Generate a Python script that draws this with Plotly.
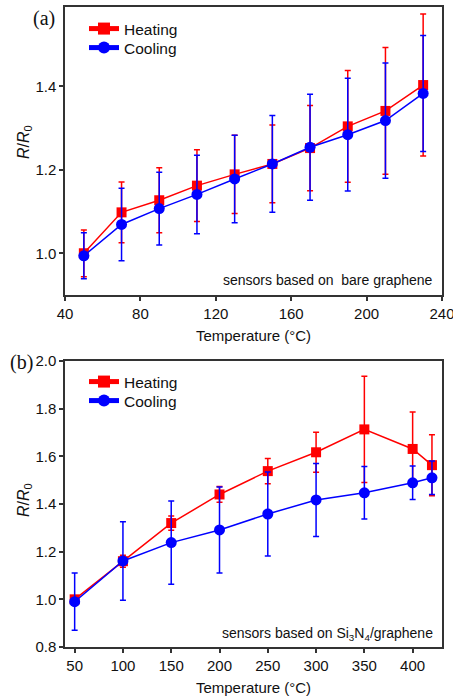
import plotly.graph_objects as go

# ---- Panel (a): bare graphene ----
temp_a = [50, 70, 90, 110, 130, 150, 170, 190, 210, 230]
heat_a = [1.000, 1.098, 1.127, 1.162, 1.189, 1.214, 1.252, 1.304, 1.341, 1.403]
heat_a_err = [0.056, 0.073, 0.078, 0.086, 0.094, 0.093, 0.102, 0.134, 0.152, 0.170]
cool_a = [0.994, 1.069, 1.107, 1.141, 1.178, 1.214, 1.254, 1.284, 1.318, 1.383]
cool_a_err = [0.055, 0.087, 0.087, 0.094, 0.105, 0.116, 0.127, 0.135, 0.138, 0.139]

# ---- Panel (b): Si3N4/graphene ----
temp_b = [50, 100, 150, 200, 250, 300, 350, 400, 420]
heat_b = [1.000, 1.160, 1.320, 1.440, 1.538, 1.617, 1.713, 1.631, 1.563]
heat_b_err = [0.010, 0.025, 0.030, 0.033, 0.053, 0.084, 0.223, 0.155, 0.128]
cool_b = [0.990, 1.161, 1.238, 1.291, 1.358, 1.417, 1.447, 1.489, 1.510]
cool_b_err = [0.120, 0.165, 0.175, 0.180, 0.176, 0.153, 0.110, 0.070, 0.070]

RED = "#ff0000"
BLUE = "#0000ff"
FONT = "Liberation Sans, Arial, sans-serif"
SERIF = "Liberation Serif, Times New Roman, serif"
TXT = "#111111"

# pixel geometry helpers
L, R, T, B = 65, 11, 7, 51
W = 453 - L - R
H = 698 - T - B
def px_to_paper(px, py):
    return (px - L) / W, (698 - B - py) / H

fig = go.Figure()

def add(x, y, err, name, color, symbol, size, xa, ya, legend):
    fig.add_trace(go.Scatter(
        x=x, y=y, name=name, mode="lines+markers",
        line=dict(color=color, width=1.5),
        marker=dict(color=color, symbol=symbol, size=size),
        error_y=dict(type="data", array=err, visible=True, color=color,
                     thickness=1.5, width=3),
        xaxis=xa, yaxis=ya, legend=legend,
    ))

add(temp_a, heat_a, heat_a_err, "Heating", RED, "square", 10, "x", "y", "legend")
add(temp_a, cool_a, cool_a_err, "Cooling", BLUE, "circle", 11, "x", "y", "legend2")
add(temp_b, heat_b, heat_b_err, "Heating", RED, "square", 10, "x2", "y2", "legend3")
add(temp_b, cool_b, cool_b_err, "Cooling", BLUE, "circle", 11, "x2", "y2", "legend4")

axis_common = dict(
    showline=True, mirror=True, linecolor="#333333", linewidth=1.5,
    ticks="outside", ticklen=4, tickwidth=1.5, tickcolor="#333333",
    showgrid=False, zeroline=False, automargin=False,
    ticklabeloverflow="allow",
    tickfont=dict(family=FONT, size=15, color=TXT),
)
xtitle = dict(text="Temperature (°C)", font=dict(family=FONT, size=15, color=TXT), standoff=10)

top_dom = [px_to_paper(0, 295)[1], px_to_paper(0, 7)[1]]
bot_dom = [px_to_paper(0, 647)[1], px_to_paper(0, 361)[1]]

def leg(px, py):
    x, y = px_to_paper(px, py)
    return dict(x=x, xanchor="left", y=y, yanchor="middle",
                bgcolor="rgba(0,0,0,0)", borderwidth=0,
                font=dict(family=FONT, size=15.5, color=TXT),
                itemsizing="constant")

fig.update_layout(
    width=453, height=698,
    margin=dict(l=L, r=R, t=T, b=B, autoexpand=False),
    paper_bgcolor="white", plot_bgcolor="white",
    showlegend=True,
    xaxis=dict(axis_common, domain=[0, 1], range=[40, 240], dtick=40, tick0=40,
               anchor="y", title=xtitle),
    yaxis=dict(axis_common, domain=top_dom, range=[0.9, 1.59], dtick=0.2, tick0=1.0,
               tickformat=".1f", anchor="x"),
    xaxis2=dict(axis_common, domain=[0, 1], range=[40, 430.4], dtick=50, tick0=50,
                anchor="y2", title=xtitle),
    yaxis2=dict(axis_common, domain=bot_dom, range=[0.8, 2.0], dtick=0.2, tick0=0.8,
                tickformat=".1f", anchor="x2"),
    legend=leg(84, 29),
    legend2=leg(84, 48),
    legend3=leg(84, 382),
    legend4=leg(84, 401),
)

def ann(text, px, py, font, angle=0):
    x, y = px_to_paper(px, py)
    fig.add_annotation(text=text, x=x, y=y, xref="paper", yref="paper", showarrow=False,
                       xanchor="center", yanchor="middle", textangle=angle, font=font)

ann("(a)", 44, 18, dict(family=SERIF, size=20, color=TXT))
ann("(b)", 21, 362, dict(family=SERIF, size=20, color=TXT))
ytitle_text = "<i>R</i>/<i>R</i><sub>0</sub>"
ann(ytitle_text, 24, 142, dict(family=FONT, size=16, color=TXT), -90)
ann(ytitle_text, 24, 500, dict(family=FONT, size=16, color=TXT), -90)

fig.add_annotation(text="sensors based on\u00a0\u00a0bare graphene", x=1, xanchor="right",
                   y=0, yanchor="bottom", xref="x domain", yref="y domain", xshift=-7, yshift=5,
                   showarrow=False, font=dict(family=FONT, size=14, color=TXT))
fig.add_annotation(text="sensors based on Si<sub>3</sub>N<sub>4</sub>/graphene", x=1, xanchor="right",
                   y=0, yanchor="bottom", xref="x2 domain", yref="y2 domain", xshift=-7, yshift=2,
                   showarrow=False, font=dict(family=FONT, size=14, color=TXT))

fig.write_html("out.html")
